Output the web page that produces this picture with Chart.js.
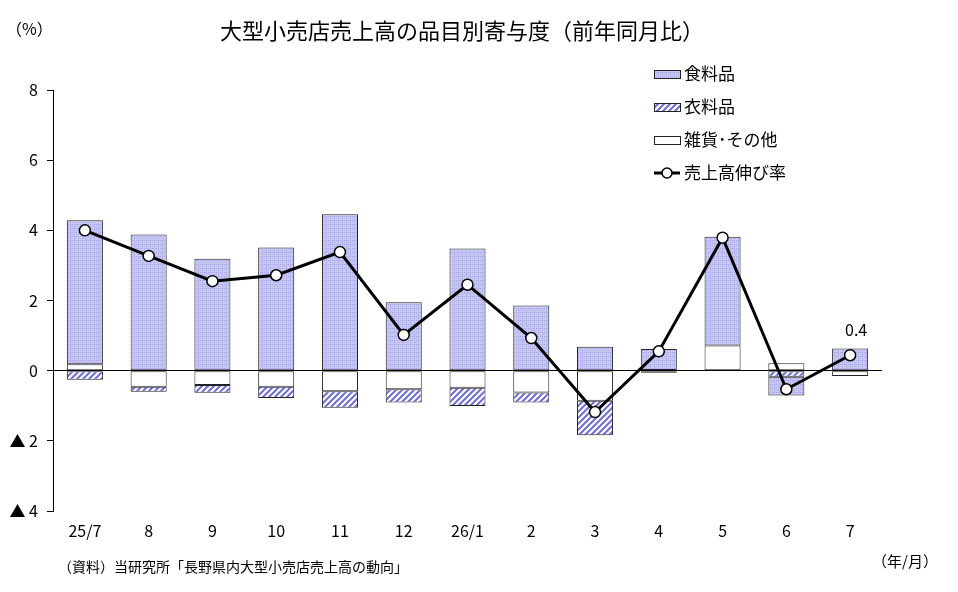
<!DOCTYPE html>
<html>
<head>
<meta charset="utf-8">
<script src="https://cdn.jsdelivr.net/npm/chart.js@4"></script>
<style>
  html, body { margin: 0; padding: 0; background: #fff; }
  #wrap { width: 958px; height: 592px; }
</style>
</head>
<body>
<div id="wrap"><canvas id="chart" width="958" height="592"></canvas></div>
<script>
const months = ["25/7", "8", "9", "10", "11", "12", "26/1", "2", "3", "4", "5", "6", "7"];
const food = [4.11, 3.88, 3.19, 3.51, 4.46, 1.95, 3.48, 1.86, 0.68, 0.60, 3.10, -0.54, 0.63];
const clothing = [-0.26, -0.14, -0.22, -0.32, -0.47, -0.38, -0.52, -0.29, -0.98, -0.06, 0, -0.17, 0];
const misc = [0.18, -0.46, -0.41, -0.46, -0.59, -0.53, -0.49, -0.62, -0.86, 0.02, 0.72, 0.21, -0.15];
const sales = [4.0, 3.27, 2.55, 2.72, 3.38, 1.02, 2.45, 0.93, -1.18, 0.55, 3.79, -0.53, 0.44];
const yTicks = [-4, -2, 0, 2, 4, 6, 8];

const FONT = "'Noto Sans CJK JP', 'Noto Sans', sans-serif";

// fill patterns
function makeFoodPattern(ctx) {
  const c = document.createElement("canvas");
  c.width = 4; c.height = 4;
  const g = c.getContext("2d");
  g.fillStyle = "#c6c6f4";
  g.fillRect(0, 0, 4, 4);
  g.fillStyle = "#a2a2e8";
  g.fillRect(0, 0, 1, 1);
  g.fillRect(2, 2, 1, 1);
  g.fillRect(2, 0, 1, 1);
  return ctx.createPattern(c, "repeat");
}

function makeHatchPattern(ctx) {
  const c = document.createElement("canvas");
  c.width = 6; c.height = 6;
  const g = c.getContext("2d");
  g.fillStyle = "#ffffff";
  g.fillRect(0, 0, 6, 6);
  g.strokeStyle = "#6e6ed4";
  g.lineWidth = 2;
  g.beginPath();
  g.moveTo(-1, 7); g.lineTo(7, -1);
  g.moveTo(-4, 4); g.lineTo(4, -4);
  g.moveTo(2, 10); g.lineTo(10, 2);
  g.stroke();
  return ctx.createPattern(c, "repeat");
}

const ctx = document.getElementById("chart").getContext("2d");
const foodFill = makeFoodPattern(ctx);
const hatchFill = makeHatchPattern(ctx);

const nz = (arr) => arr.map((v) => (v === 0 ? null : v));

// legend, titles and notes
const extras = {
  id: "extras",
  afterDraw(chart) {
    const c = chart.ctx;
    c.save();
    c.fillStyle = "#000";
    c.textBaseline = "middle";

    c.font = "22px " + FONT;
    c.textAlign = "center";
    c.fillText("大型小売店売上高の品目別寄与度（前年同月比）", 462, 31);

    c.font = "16px " + FONT;
    c.textAlign = "left";
    c.fillText("（%）", 6, 29);

    c.font = "14px " + FONT;
    c.fillText("（資料）当研究所「長野県内大型小売店売上高の動向」", 58, 567);

    c.font = "15px " + FONT;
    c.textAlign = "right";
    c.fillText("（年/月）", 938, 561);

    // legend
    const items = [
      { label: "食料品", fill: foodFill },
      { label: "衣料品", fill: hatchFill },
      { label: "雑貨･その他", fill: "#ffffff" },
    ];
    const lx = 654, sw = 26;
    items.forEach((it, i) => {
      const y = 74 + i * 33;
      c.fillStyle = it.fill;
      c.fillRect(lx, y - 4, sw, 8);
      c.strokeStyle = "#222";
      c.lineWidth = 1;
      c.strokeRect(lx + 0.5, y - 3.5, sw, 8);
      c.fillStyle = "#000";
      c.font = "17px " + FONT;
      c.textAlign = "left";
      c.fillText(it.label, lx + 30, y);
    });
    const ly = 74 + 3 * 33;
    c.strokeStyle = "#000";
    c.lineWidth = 3;
    c.beginPath();
    c.moveTo(lx, ly); c.lineTo(lx + sw, ly);
    c.stroke();
    c.beginPath();
    c.arc(lx + sw / 2, ly, 5, 0, Math.PI * 2);
    c.fillStyle = "#fff";
    c.fill();
    c.lineWidth = 1.5;
    c.stroke();
    c.fillStyle = "#000";
    c.font = "17px " + FONT;
    c.fillText("売上高伸び率", lx + 30, ly);

    // label on last point
    const meta = chart.getDatasetMeta(3);
    const last = meta.data[meta.data.length - 1];
    c.font = "16px " + FONT;
    c.textAlign = "center";
    c.fillText(sales[sales.length - 1].toFixed(1), last.x + 6, last.y - 25);
    c.restore();
  },
};

new Chart(ctx, {
  data: {
    labels: months,
    datasets: [
      {
        type: "bar",
        label: "雑貨・その他",
        data: nz(misc),
        backgroundColor: "#ffffff",
        order: 2,
      },
      {
        type: "bar",
        label: "衣料品",
        data: nz(clothing),
        backgroundColor: hatchFill,
        order: 2,
      },
      {
        type: "bar",
        label: "食料品",
        data: nz(food),
        backgroundColor: foodFill,
        order: 2,
      },
      {
        type: "line",
        label: "売上高伸び率",
        data: sales,
        stack: "line",
        borderColor: "#000",
        borderWidth: 3,
        pointRadius: 5.5,
        pointBorderWidth: 1.5,
        pointBackgroundColor: "#fff",
        pointBorderColor: "#000",
        tension: 0,
        order: 1,
      },
    ],
  },
  options: {
    responsive: false,
    animation: false,
    layout: { padding: { top: 90, right: 76, bottom: 0, left: 0 } },
    elements: {
      bar: { borderWidth: 1, borderColor: "#222", borderSkipped: false },
    },
    datasets: {
      bar: { barPercentage: 0.565, categoryPercentage: 1 },
    },
    scales: {
      x: {
        stacked: true,
        grid: { display: false },
        border: { display: false },
        ticks: { color: "#000", padding: 2, maxRotation: 0, font: { size: 16, family: FONT } },
        afterFit: (scale) => { scale.height = 81; },
      },
      y: {
        stacked: true,
        min: -4,
        max: 8,
        afterBuildTicks: (scale) => { scale.ticks = yTicks.map((v) => ({ value: v })); },
        grid: {
          color: (c) => (c.tick && c.tick.value === 0 ? "#000" : "rgba(0,0,0,0)"),
          tickColor: "#000",
          tickLength: 6,
          lineWidth: 1,
        },
        border: { display: true, color: "#000", width: 1 },
        ticks: {
          color: "#000",
          padding: 9,
          font: { size: 16, family: FONT },
          callback: (v) => (v < 0 ? "▲ " + Math.abs(v) : String(v)),
        },
        afterFit: (scale) => { scale.width = 53; },
      },
    },
    plugins: {
      legend: { display: false },
      tooltip: { enabled: false },
    },
  },
  plugins: [extras],
});
</script>
</body>
</html>
